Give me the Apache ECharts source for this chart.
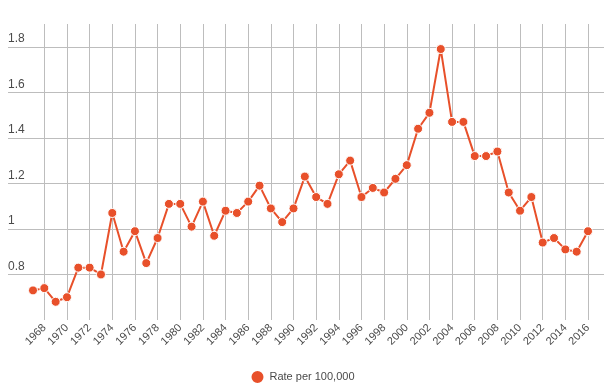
<!DOCTYPE html>
<html>
<head>
<meta charset="utf-8">
<script src="https://cdn.jsdelivr.net/npm/echarts@6/dist/echarts.min.js"></script>
<style>html,body{margin:0;padding:0;background:#fff}#c{width:604px;height:389px}</style>
</head>
<body>
<div id="c"></div>
<script>
var years = [];
for (var y = 1967; y <= 2016; y++) years.push(String(y));
var rate = [0.73,0.74,0.68,0.70,0.83,0.83,0.80,1.07,0.90,0.99,
            0.85,0.96,1.11,1.11,1.01,1.12,0.97,1.08,1.07,1.12,
            1.19,1.09,1.03,1.09,1.23,1.14,1.11,1.24,1.30,1.14,
            1.18,1.16,1.22,1.28,1.44,1.51,1.79,1.47,1.47,1.32,
            1.32,1.34,1.16,1.08,1.14,0.94,0.96,0.91,0.90,0.99];
var yTickLabels = ['0.8','1','1.2','1.4','1.6','1.8'];
var seriesName = 'Rate per 100,000';

var gridColor = '#bdbdbd';
var textColor = '#4a4a4a';
var font = 'Liberation Sans, Arial, sans-serif';
var chart = echarts.init(document.getElementById('c'));
chart.setOption({
  animation: false,
  textStyle: {fontFamily: font},
  grid: [
    {left: 33, right: 16, top: 24, bottom: 69},
    {left: 8, right: 0, top: 24, bottom: 69}
  ],
  xAxis: [
    {
      type: 'category', gridIndex: 0, data: years, boundaryGap: false,
      axisLine: {show: false}, axisTick: {show: false},
      axisLabel: {
        interval: function (i, v) { return Number(v) % 2 === 0; },
        rotate: 45, color: textColor, fontSize: 11, margin: 6, fontFamily: font
      },
      splitLine: {
        show: true,
        interval: function (i, v) { return Number(v) % 2 === 0; },
        lineStyle: {color: gridColor, width: 1}
      }
    },
    {
      type: 'value', gridIndex: 1, min: 0, max: 1, show: false
    }
  ],
  yAxis: [
    {
      type: 'value', gridIndex: 0, min: 0.6, max: 1.9, interval: 0.2,
      axisLine: {show: false}, axisTick: {show: false},
      axisLabel: {show: false}, splitLine: {show: false}
    },
    {
      type: 'value', gridIndex: 1, min: 0.6, max: 1.9, interval: 0.2,
      axisLine: {show: false}, axisTick: {show: false},
      axisLabel: {
        inside: true, margin: 0, color: textColor, fontSize: 12,
        verticalAlign: 'bottom', padding: [0, 0, 2, 0], fontFamily: font,
        formatter: function (v) {
          var s = String(Math.round(v * 10) / 10);
          return yTickLabels.indexOf(s) >= 0 ? s : '';
        }
      },
      splitLine: {
        show: true,
        lineStyle: {
          width: 1,
          color: ['rgba(0,0,0,0)', gridColor, gridColor, gridColor, gridColor, gridColor, gridColor, 'rgba(0,0,0,0)']
        }
      }
    }
  ],
  legend: {
    bottom: -1, left: 'center', icon: 'circle', itemWidth: 14, itemHeight: 14, itemGap: 6,
    textStyle: {color: textColor, fontSize: 11, fontFamily: font},
    data: [seriesName]
  },
  series: [{
    name: seriesName, type: 'line', xAxisIndex: 0, yAxisIndex: 0,
    data: rate, symbol: 'circle', symbolSize: 9, showAllSymbol: true, z: 5,
    itemStyle: {color: '#e8502a', borderColor: '#fff', borderWidth: 1},
    lineStyle: {color: '#e8502a', width: 2}
  }]
});
</script>
</body>
</html>
